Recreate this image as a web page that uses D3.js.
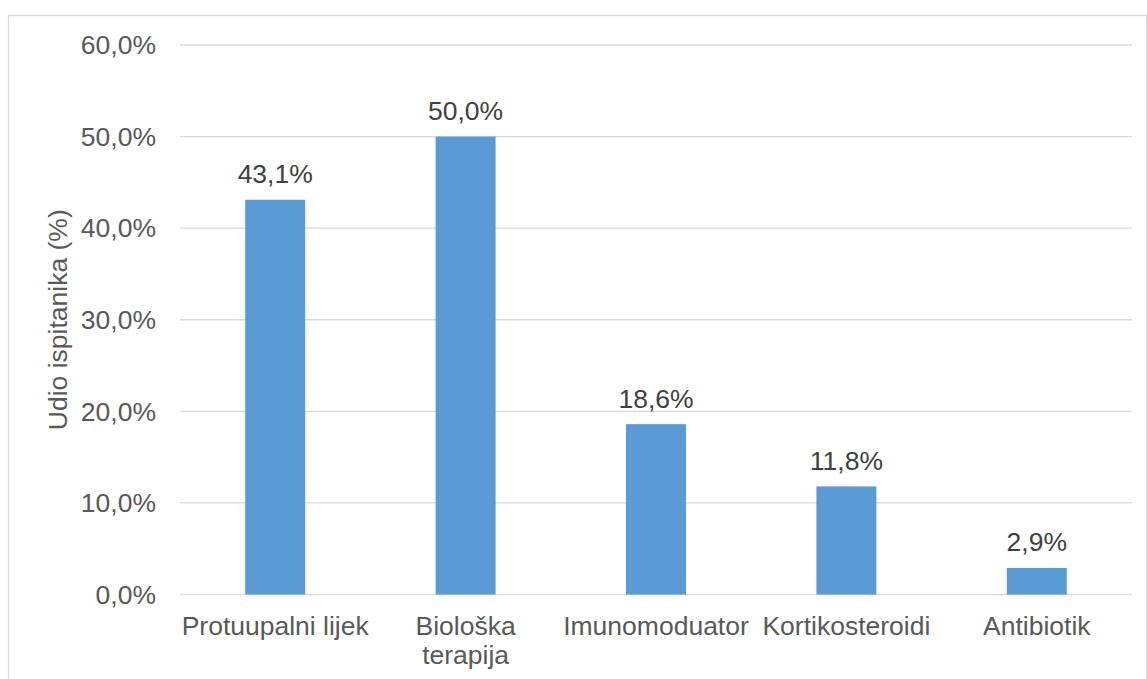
<!DOCTYPE html>
<html>
<head>
<meta charset="utf-8">
<script src="https://cdn.jsdelivr.net/npm/d3@7"></script>
<style>
  html, body { margin: 0; padding: 0; background: #fff; }
  svg { display: block; font-family: "Liberation Sans", Arial, sans-serif; }
</style>
</head>
<body>
<svg id="chart" width="1147" height="679"></svg>
<script>
const categories = [["Protuupalni lijek"], ["Biološka", "terapija"], ["Imunomoduator"], ["Kortikosteroidi"], ["Antibiotik"]];
const values = [43.1, 50.0, 18.6, 11.8, 2.9];
const yTicks = [0, 10, 20, 30, 40, 50, 60];
const yTitle = "Udio ispitanika (%)";

const svg = d3.select("#chart");
const W = 1147, H = 679;
const plot = { left: 180, right: 1132, top: 45, bottom: 594.5 };
const fmt = v => d3.format(".1f")(v).replace(".", ",") + "%";

// chart border
svg.append("rect")
  .attr("x", 8.5).attr("y", 15.5)
  .attr("width", 1138).attr("height", 700)
  .attr("fill", "none").attr("stroke", "#d9d9d9").attr("stroke-width", 1.3);

const x = d3.scaleBand()
  .domain(d3.range(categories.length))
  .range([plot.left, plot.right])
  .padding(0);
const y = d3.scaleLinear().domain([0, 60]).range([plot.bottom, plot.top]);

const barW = x.bandwidth() * 0.315;

// gridlines
svg.append("g").selectAll("line").data(yTicks).join("line")
  .attr("x1", plot.left).attr("x2", plot.right)
  .attr("y1", d => y(d)).attr("y2", d => y(d))
  .attr("stroke", "#d9d9d9").attr("stroke-width", 1.3);

// y tick labels
svg.append("g").selectAll("text").data(yTicks).join("text")
  .attr("x", plot.left - 24).attr("y", d => y(d))
  .attr("dy", "0.35em")
  .attr("text-anchor", "end")
  .attr("font-size", 26.5).attr("fill", "#595959")
  .text(d => fmt(d));

// bars
svg.append("g").selectAll("rect").data(values).join("rect")
  .attr("x", (d, i) => x(i) + x.bandwidth() / 2 - barW / 2)
  .attr("width", barW)
  .attr("y", d => y(d))
  .attr("height", d => y(0) - y(d))
  .attr("fill", "#5B9BD5");

// data labels
svg.append("g").selectAll("text").data(values).join("text")
  .attr("x", (d, i) => x(i) + x.bandwidth() / 2)
  .attr("y", d => y(d) - 16.5)
  .attr("text-anchor", "middle")
  .attr("font-size", 26.5).attr("fill", "#404040")
  .text(d => fmt(d));

// category labels
const cat = svg.append("g").selectAll("text").data(categories).join("text")
  .attr("text-anchor", "middle")
  .attr("font-size", 26.5).attr("fill", "#595959");
cat.each(function(lines, i) {
  d3.select(this).selectAll("tspan").data(lines).join("tspan")
    .attr("x", x(i) + x.bandwidth() / 2)
    .attr("y", (d, j) => 635 + j * 29)
    .text(d => d);
});

// y axis title
svg.append("text")
  .attr("transform", `translate(67,${(plot.top + plot.bottom) / 2}) rotate(-90)`)
  .attr("text-anchor", "middle")
  .attr("font-size", 26.5).attr("fill", "#595959")
  .text(yTitle);
</script>
</body>
</html>
